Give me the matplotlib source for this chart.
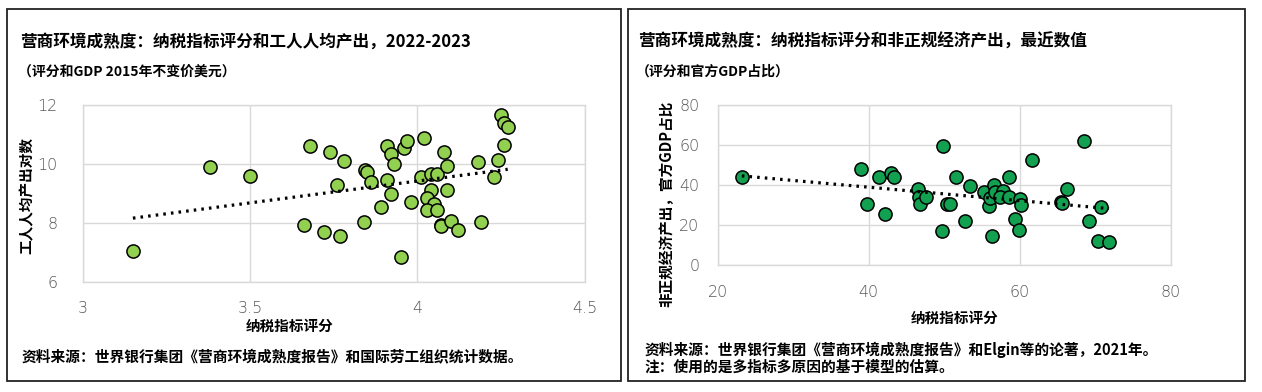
import numpy as np
import matplotlib
matplotlib.use("Agg")
import matplotlib.pyplot as plt
from matplotlib.patches import Rectangle

plt.rcParams['font.family'] = ['Noto Sans CJK SC', 'DejaVu Sans']

# left panel: tax-payment score vs log output per worker
tax_score_l = [3.15, 3.38, 3.50, 3.68, 3.66, 3.72, 3.74, 3.77, 3.76, 3.78,
               3.84, 3.845, 3.85, 3.86, 3.89, 3.91, 3.92, 3.93, 3.91, 3.92,
               3.96, 3.97, 3.95, 3.98, 4.02, 4.01, 4.04, 4.06, 4.04, 4.03,
               4.05, 4.03, 4.06, 4.08, 4.09, 4.09, 4.07, 4.07, 4.10, 4.12,
               4.18, 4.19, 4.23, 4.24, 4.25, 4.26, 4.27, 4.26]
log_output = [7.05, 9.90, 9.58, 10.60, 7.93, 7.68, 10.42, 7.55, 9.27, 10.10,
              8.02, 9.78, 9.73, 9.38, 8.52, 10.60, 10.33, 9.98, 9.47, 8.98,
              10.55, 10.78, 6.85, 8.71, 10.88, 9.54, 9.66, 9.66, 9.11, 8.83,
              8.63, 8.42, 8.44, 10.42, 9.92, 9.10, 7.91, 7.88, 8.06, 7.75,
              10.06, 8.02, 9.54, 10.13, 11.65, 11.40, 11.25, 10.63]

# right panel: tax-payment score vs informal output (% of official GDP)
tax_score_r = [23.2, 39.0, 39.8, 41.4, 42.2, 43.0, 43.4, 46.5, 46.7, 46.8,
               47.6, 49.8, 49.7, 50.4, 50.8, 51.5, 52.7, 53.4, 55.2, 55.9,
               56.0, 56.6, 56.7, 56.3, 57.7, 57.3, 58.6, 58.5, 59.4, 59.9,
               60.0, 60.1, 61.6, 65.5, 65.6, 66.2, 68.5, 69.2, 70.4, 70.7,
               71.8]
informal_share = [43.9, 47.9, 30.6, 43.9, 25.8, 45.9, 44.2, 38.1, 34.2, 30.7,
                  34.2, 59.5, 16.9, 30.7, 30.7, 44.2, 22.1, 39.7, 36.7, 29.8,
                  33.4, 40.1, 36.7, 14.4, 37.1, 34.2, 44.2, 34.2, 22.9, 17.6,
                  33.1, 30.1, 52.5, 31.6, 31.0, 38.1, 62.0, 22.1, 12.1, 29.3,
                  11.8]

titles = ["营商环境成熟度：纳税指标评分和工人人均产出，2022-2023",
          "营商环境成熟度：纳税指标评分和非正规经济产出，最近数值"]
subtitles = ["（评分和GDP 2015年不变价美元）", "（评分和官方GDP占比）"]
xlabel = "纳税指标评分"
ylabels = ["工人人均产出对数", "非正规经济产出，官方GDP占比"]
sources = [["资料来源：世界银行集团《营商环境成熟度报告》和国际劳工组织统计数据。"],
           ["资料来源：世界银行集团《营商环境成熟度报告》和Elgin等的论著，2021年。",
            "注：使用的是多指标多原因的基于模型的估算。"]]

W, H = 1262, 392
fig = plt.figure(figsize=(W / 100, H / 100), dpi=100)


def px(x, y):
    return x / W, 1 - y / H


# panel frames
for x0, x1 in [(7, 621), (628, 1245)]:
    fig.add_artist(Rectangle((x0 / W, 1 - 380.5 / H), (x1 - x0) / W, 372 / H,
                             transform=fig.transFigure, fill=False,
                             edgecolor='#222222', lw=1.3))

grid_c = '#d9d9d9'
tick_c = '#595959'


def style_axes(ax):
    ax.grid(True, color=grid_c, lw=1.0)
    ax.set_axisbelow(True)
    for s in ax.spines.values():
        s.set_color(grid_c)
        s.set_linewidth(1.0)
    ax.tick_params(length=0, labelsize=11.5, labelcolor=tick_c)
    for lab in ax.get_xticklabels() + ax.get_yticklabels():
        lab.set_family(['DejaVu Sans'])
        lab.set_fontweight('light')


def trend(ax, x, y):
    x = np.asarray(x)
    y = np.asarray(y)
    k, b = np.polyfit(x, y, 1)
    xs = np.array([x.min(), x.max()])
    ax.plot(xs, k * xs + b, color='black', lw=2.3,
            linestyle=(0, (0.8, 1.6)), zorder=4)


# left chart
ax1 = fig.add_axes([82.7 / W, 1 - 281.7 / H, 502 / W, 176.7 / H])
ax1.scatter(tax_score_l, log_output, s=90, color='#92D050',
            edgecolor='black', linewidth=1.1, zorder=3)
trend(ax1, tax_score_l, log_output)
ax1.set_xlim(3, 4.5)
ax1.set_ylim(6, 12)
ax1.set_xticks([3, 3.5, 4, 4.5])
ax1.set_xticklabels(['3', '3.5', '4', '4.5'])
ax1.set_yticks([6, 8, 10, 12])
ax1.tick_params(axis='x', pad=14)
ax1.tick_params(axis='y', pad=18)
style_axes(ax1)

# right chart
ax2 = fig.add_axes([717.7 / W, 1 - 265.3 / H, 453.3 / W, 160.3 / H])
ax2.scatter(tax_score_r, informal_share, s=90, color='#12A150',
            edgecolor='black', linewidth=1.1, zorder=3)
trend(ax2, tax_score_r, informal_share)
ax2.set_xlim(20, 80)
ax2.set_ylim(0, 80)
ax2.set_xticks([20, 40, 60, 80])
ax2.set_yticks([0, 20, 40, 60, 80])
ax2.tick_params(axis='x', pad=14)
ax2.tick_params(axis='y', pad=13)
style_axes(ax2)

# texts
fig.text(*px(20, 42), titles[0], fontsize=12, fontweight='bold', va='center')
fig.text(*px(18, 72), subtitles[0], fontsize=10, fontweight='bold', va='center')
fig.text(*px(638, 42), titles[1], fontsize=12, fontweight='bold', va='center')
fig.text(*px(636, 72), subtitles[1], fontsize=10, fontweight='bold', va='center')

fig.text(*px(290, 326), xlabel, fontsize=10.5, fontweight='bold',
         ha='center', va='center')
fig.text(*px(955, 318), xlabel, fontsize=10.5, fontweight='bold',
         ha='center', va='center')
fig.text(*px(27, 195), ylabels[0], fontsize=10.5, fontweight='bold',
         rotation=90, ha='center', va='center')
fig.text(*px(666, 204), ylabels[1], fontsize=10.5, fontweight='bold',
         rotation=90, ha='center', va='center')

fig.text(*px(22, 357), sources[0][0], fontsize=10.6, fontweight='bold', va='center')
fig.text(*px(645, 350), sources[1][0], fontsize=10.6, fontweight='bold', va='center')
fig.text(*px(645, 367), sources[1][1], fontsize=10.6, fontweight='bold', va='center')

fig.savefig("out.png", dpi=100)
